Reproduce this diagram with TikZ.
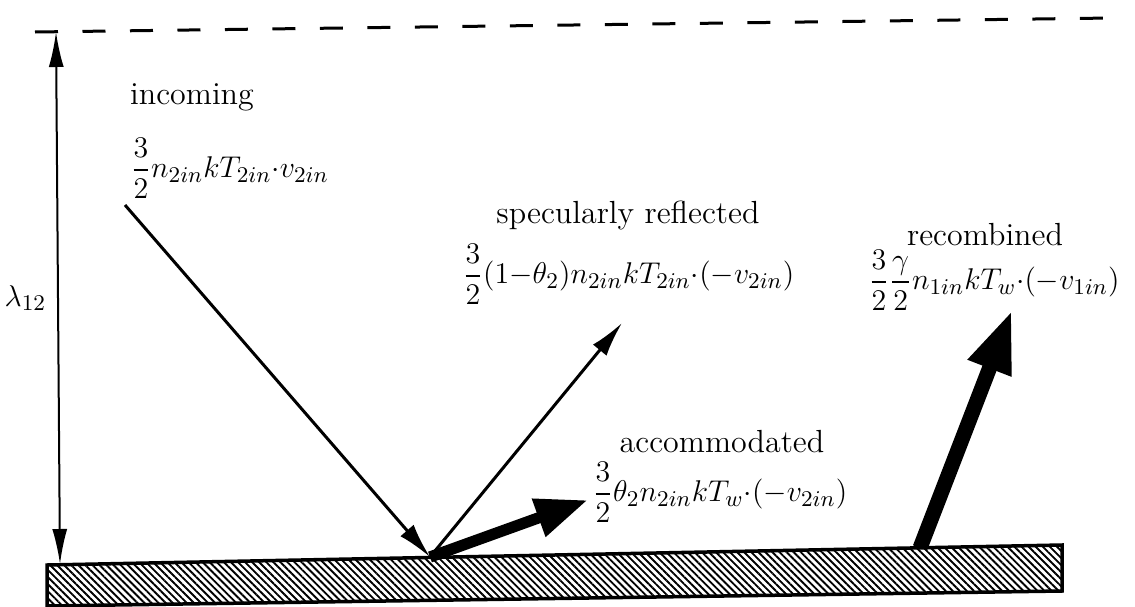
\documentclass[tikz,border=0pt]{standalone}
\usepackage{amsmath}
\usetikzlibrary{positioning,arrows.meta,patterns.meta,calc}
\newcommand{\plotfont}{\fontsize{12.8pt}{15pt}\selectfont}
\tikzset{
  thin ray/.style={line width=1.2pt, draw=black, -{Latex[length=14pt,width=7pt]}},
  heavy ray/.style={line width=4.5pt, draw=black, -{Triangle[length=21pt,width=15pt]}},
  gap/.style={line width=0.8pt, draw=black, {Latex[length=14pt,width=6pt]}-{Latex[length=14pt,width=6pt]}},
  wall/.style={line width=1.4pt, draw=black, pattern={Lines[angle=-45,distance=2pt,line width=0.75pt]}},
  level/.style={line width=1.2pt, draw=black, dash pattern=on 9.2pt off 9.8pt},
  kind/.style={inner sep=0pt, font=\plotfont},
  flux/.style={inner sep=0pt, font=\plotfont, anchor=west}
}

\begin{document}
\begin{tikzpicture}[x=0.4pt, y=-0.4pt]
    \useasboundingbox (0,0) rectangle (1135,607);

    % wall and upper level
    \draw[wall] (47,565) -- (1062,545) -- (1062,591) -- (47,606) -- cycle;
    \draw[level] (35,32) -- (1112,18);

    \coordinate (ltop) at (56,32);
    \coordinate (lbot) at (60,564);
    \draw[gap] (ltop) -- node[left=1pt] (lam) {\plotfont$\lambda_{12}$} (lbot);

    % rays
    \coordinate (hit) at (430,557);
    \coordinate (inc) at (125,205);
    \coordinate (spec) at (622,323);
    \coordinate (acc) at (588,500);
    \coordinate (rb) at (920,548);
    \coordinate (rt) at (1012,310);

    \draw[thin ray] (inc) -- (hit);
    \draw[thin ray] (hit) -- (spec);
    \draw[heavy ray] (hit) -- (acc);
    \draw[heavy ray, line width=6pt, -{Triangle[length=25pt,width=17pt]}] (rb) -- (rt);

    % labels
    \node[kind] (tin) at (192,97) {incoming};
    \node[flux] (fin) at (130,168) {$\dfrac{3}{2}n_{2in}kT_{2in}{\cdot}v_{2in}$};

    \node[kind] (tspec) at (628,215) {specularly reflected};
    \node[flux] (fspec) at (462,274) {$\dfrac{3}{2}(1{-}\theta_2)n_{2in}kT_{2in}{\cdot}(-v_{2in})$};

    \node[kind] (trec) at (985,235) {recombined};
    \node[flux] (frec) at (868,280) {$\dfrac{3}{2}\dfrac{\gamma}{2}n_{1in}kT_w{\cdot}(-v_{1in})$};

    \node[kind] (tacc) at (722,442) {accommodated};
    \node[flux] (facc) at (592,492) {$\dfrac{3}{2}\theta_2n_{2in}kT_w{\cdot}(-v_{2in})$};
\end{tikzpicture}
\end{document}
